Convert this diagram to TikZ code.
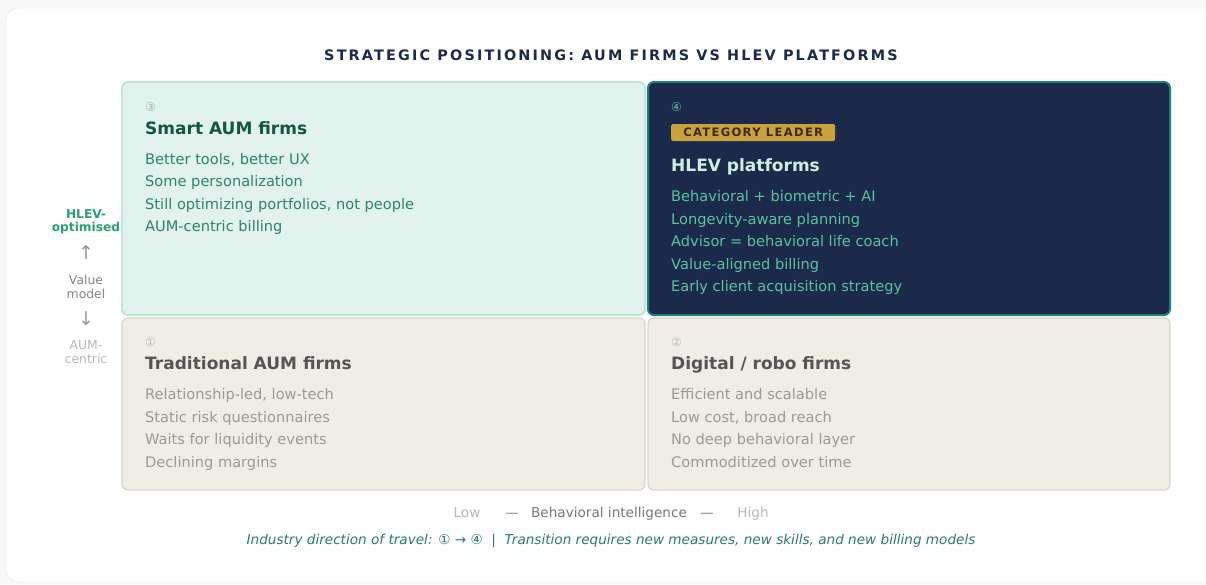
\documentclass[tikz,border=0pt]{standalone}
\usepackage{fontspec}
\setmainfont{DejaVu Sans}
\usepackage{xcolor}
\usepackage{tikz}
\usetikzlibrary{positioning}

\definecolor{pagebg}{HTML}{F8F8F9}
\definecolor{cardline}{HTML}{E2E5EC}
\definecolor{titlenavy}{HTML}{1E2A4A}
\definecolor{mintfill}{HTML}{E1F3EC}
\definecolor{mintline}{HTML}{A8DDC9}
\definecolor{mintnum}{HTML}{A0B2A9}
\definecolor{minthead}{HTML}{17553C}
\definecolor{minttext}{HTML}{2E8462}
\definecolor{navyfill}{HTML}{1B2A4B}
\definecolor{navyline}{HTML}{1B7F7C}
\definecolor{navynum}{HTML}{5BBFA0}
\definecolor{navyhead}{HTML}{CDEEE2}
\definecolor{navytext}{HTML}{5CC29C}
\definecolor{badgegold}{HTML}{C9A23F}
\definecolor{badgetext}{HTML}{3A2A0A}
\definecolor{sandfill}{HTML}{F0EDE7}
\definecolor{sandline}{HTML}{D9D5CC}
\definecolor{sandnum}{HTML}{B8B8B8}
\definecolor{sandhead}{HTML}{555555}
\definecolor{sandtext}{HTML}{999999}
\definecolor{axisgreen}{HTML}{2BA070}
\definecolor{footgreen}{HTML}{2A7D5E}

\newcommand{\fs}[2]{\fontsize{#1}{#2}\selectfont}

\begin{document}
\begin{tikzpicture}[x=1pt,y=-1pt,
  quad/.style={draw, rounded corners=6pt, line width=1.2pt, inner sep=0pt},
  num/.style={anchor=base west, inner sep=0pt, font=\fs{12}{12}},
  head/.style={anchor=base west, inner sep=0pt, font=\fs{17}{17}\bfseries},
  body/.style={anchor=base west, inner sep=0pt, align=left, font=\fs{14.6}{22.5}},
  axis/.style={anchor=base, inner sep=0pt, align=center, font=\fs{12.4}{14.3}},
  bottom/.style={anchor=base, inner sep=0pt, font=\fs{13.6}{13.6}}]
  \useasboundingbox (0,0) rectangle (1206,584);
  \fill[pagebg] (0,0) rectangle (1206,584);
  \draw[cardline, fill=white, rounded corners=12pt] (6,8) rectangle (1222,582);

  % title
  \node[anchor=base, inner sep=0pt, text=titlenavy,
    font=\fs{14.4}{14.4}\bfseries\addfontfeature{LetterSpace=15}] (title) at (611,60)
    {STRATEGIC POSITIONING: AUM FIRMS VS HLEV PLATFORMS};

  % quadrant boxes
  \node[quad, draw=mintline, fill=mintfill, minimum width=523, minimum height=233] (q3) at (383.5,198.5) {};
  \node[quad, draw=navyline, fill=navyfill, line width=2pt, minimum width=522, minimum height=233] (q4) at (909,198.5) {};
  \node[quad, draw=sandline, fill=sandfill, minimum width=523, minimum height=172] (q1) at (383.5,404) {};
  \node[quad, draw=sandline, fill=sandfill, minimum width=522, minimum height=172] (q2) at (909,404) {};

  % Smart AUM firms (body nodes sit on their last baseline)
  \node[num, text=mintnum] (n3) at (145,111) {③};
  \node[head, text=minthead] (h3) at (145,134) {Smart AUM firms};
  \node[body, text=minttext] (t3) at (145,231.5)
    {Better tools, better UX\\Some personalization\\Still optimizing portfolios, not people\\AUM-centric billing};

  % HLEV platforms
  \node[num, text=navynum] (n4) at (671,111.5) {④};
  \node[anchor=west, inner sep=0pt, fill=badgegold, rounded corners=2pt,
    minimum width=164, minimum height=17, text=badgetext,
    font=\fs{11.6}{11.6}\bfseries\addfontfeature{LetterSpace=11}] (badge) at (671,132.5) {CATEGORY LEADER};
  \node[head, text=navyhead] (h4) at (671,171) {HLEV platforms};
  \node[body, text=navytext] (t4) at (671,291.5)
    {Behavioral + biometric + AI\\Longevity-aware planning\\Advisor = behavioral life coach\\Value-aligned billing\\Early client acquisition strategy};

  % Traditional AUM firms
  \node[num, text=sandnum] (n1) at (145,346) {①};
  \node[head, text=sandhead] (h1) at (145,369) {Traditional AUM firms};
  \node[body, text=sandtext] (t1) at (145,467)
    {Relationship-led, low-tech\\Static risk questionnaires\\Waits for liquidity events\\Declining margins};

  % Digital / robo firms
  \node[num, text=sandnum] (n2) at (671,346) {②};
  \node[head, text=sandhead] (h2) at (671,369) {Digital / robo firms};
  \node[body, text=sandtext] (t2) at (671,467)
    {Efficient and scalable\\Low cost, broad reach\\No deep behavioral layer\\Commoditized over time};

  % value model axis
  \node[axis, text=axisgreen, font=\fs{12.2}{13.6}\bfseries] (vtop) at (86,231.7) {HLEV-\\optimised};
  \node[axis, text=sandtext, font=\fs{19}{19}] (vup) at (86,259.5) {↑};
  \node[axis, text=black!47] (vmid) at (86,298.3) {Value\\model};
  \node[axis, text=sandtext, font=\fs{19}{19}] (vdown) at (86,325.5) {↓};
  \node[axis, text=sandnum] (vbot) at (86,363.3) {AUM-\\centric};

  % behavioral intelligence axis
  \node[bottom, text=sandnum] (low) at (467,517.5) {Low};
  \node[bottom, text=black!47] (dashl) at (512,517.5) {—};
  \node[bottom, text=black!53] (bi) at (609,517.5) {Behavioral intelligence};
  \node[bottom, text=black!47] (dashr) at (707,517.5) {—};
  \node[bottom, text=sandnum] (high) at (753,517.5) {High};

  % footer
  \node[bottom, text=footgreen, font=\fs{13.6}{13.6}\itshape] (foot) at (611,544.5)
    {Industry direction of travel: ① → ④ \ | \ Transition requires new measures, new skills, and new billing models};
\end{tikzpicture}
\end{document}
